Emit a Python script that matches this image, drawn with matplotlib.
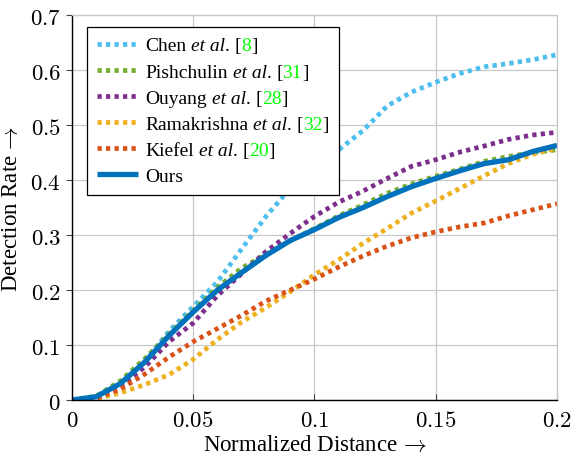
import matplotlib
matplotlib.use("Agg")
import matplotlib.pyplot as plt
from matplotlib.ticker import FuncFormatter
from matplotlib.offsetbox import TextArea, HPacker

plt.rcParams['mathtext.fontset'] = 'cm'
SERIF = ['Liberation Serif', 'DejaVu Serif']

x = [0.00, 0.01, 0.02, 0.03, 0.04, 0.05, 0.06, 0.07, 0.08, 0.09, 0.10,
     0.11, 0.12, 0.13, 0.14, 0.15, 0.16, 0.17, 0.18, 0.19, 0.20]

chen = [0.0, 0.005, 0.03, 0.07, 0.125, 0.17, 0.215, 0.275, 0.334, 0.385, 0.422,
        0.455, 0.49, 0.535, 0.56, 0.578, 0.594, 0.606, 0.612, 0.619, 0.628]
pishchulin = [0.0, 0.007, 0.035, 0.075, 0.12, 0.163, 0.205, 0.24, 0.265, 0.29, 0.312,
              0.335, 0.355, 0.376, 0.393, 0.407, 0.42, 0.434, 0.443, 0.45, 0.455]
ouyang = [0.0, 0.004, 0.025, 0.06, 0.106, 0.14, 0.19, 0.23, 0.27, 0.303, 0.334,
          0.36, 0.38, 0.403, 0.425, 0.437, 0.451, 0.462, 0.474, 0.482, 0.487]
ramakrishna = [0.0, 0.002, 0.013, 0.028, 0.046, 0.074, 0.11, 0.142, 0.168, 0.197, 0.228,
               0.255, 0.285, 0.312, 0.34, 0.362, 0.385, 0.408, 0.43, 0.447, 0.458]
kiefel = [0.0, 0.003, 0.02, 0.047, 0.078, 0.106, 0.13, 0.154, 0.18, 0.2, 0.22,
          0.242, 0.262, 0.28, 0.295, 0.306, 0.315, 0.322, 0.335, 0.346, 0.357]
ours = [0.0, 0.006, 0.03, 0.069, 0.117, 0.16, 0.2, 0.232, 0.263, 0.29, 0.31,
        0.332, 0.35, 0.37, 0.388, 0.403, 0.417, 0.43, 0.437, 0.452, 0.463]

names = ["Chen", "Pishchulin", "Ouyang", "Ramakrishna", "Kiefel", "Ours"]
cites = ["8", "31", "28", "32", "20", None]
series = [chen, pishchulin, ouyang, ramakrishna, kiefel, ours]
colors = ["#4DBEEE", "#77AC30", "#7E2F8E", "#EDB120", "#D95319", "#0072BD"]

xticks = [0, 0.05, 0.1, 0.15, 0.2]
yticks = [0, 0.1, 0.2, 0.3, 0.4, 0.5, 0.6, 0.7]

fig = plt.figure(figsize=(5.74, 4.56), dpi=100)
ax = fig.add_axes([0.1254, 0.1206, 0.845, 0.844])

lines = []
for nm, ys, c in zip(names, series, colors):
    if nm == "Ours":
        ln, = ax.plot(x, ys, color=c, lw=3.8, solid_capstyle='butt', solid_joinstyle='round')
    else:
        ln, = ax.plot(x, ys, color=c, lw=3.4, linestyle=(0, (0.9, 0.9)), dash_capstyle='butt')
    lines.append(ln)

ax.set_xlim(0, 0.2)
ax.set_ylim(0, 0.7)
ax.set_xticks(xticks)
ax.set_yticks(yticks)

def fmt(v, pos):
    return '$' + ('%g' % v) + '$'
ax.xaxis.set_major_formatter(FuncFormatter(fmt))
ax.yaxis.set_major_formatter(FuncFormatter(fmt))
ax.tick_params(axis='both', labelsize=16.5, color='#444444', width=0.8)
ax.tick_params(axis='x', direction='in', length=4, pad=6)
ax.tick_params(axis='y', direction='out', length=4, pad=4)

ax.grid(True, color='#c8c8c8', lw=0.9)
ax.set_axisbelow(True)
for s in ['top', 'right']:
    ax.spines[s].set_color('#c8c8c8')
    ax.spines[s].set_linewidth(0.9)
for s in ['left', 'bottom']:
    ax.spines[s].set_color('black')
    ax.spines[s].set_linewidth(1.0)

ax.set_xlabel(r'Normalized Distance $\!\rightarrow$', family=SERIF, fontsize=16.5, labelpad=2)
ax.set_ylabel(r'Detection Rate $\!\rightarrow$', family=SERIF, fontsize=16.5, labelpad=6)

fs = 14
leg = ax.legend(lines, names, loc='upper left', bbox_to_anchor=(0.031, 0.969),
                borderaxespad=0, prop={'family': SERIF, 'size': fs}, fancybox=False,
                edgecolor='black', framealpha=1, handlelength=2.1, handletextpad=0.4,
                labelspacing=0.44, borderpad=0.5)
leg.get_frame().set_linewidth(0.9)

# Rich labels: "Name et al. [cite]" with italic "et al" and green citation
def ta(s, **kw):
    props = dict(family=SERIF, size=fs, color='black')
    props.update(kw)
    return TextArea(s, textprops=props)

for column in leg._legend_handle_box.get_children():
    for entry, nm, c in zip(column.get_children(), names, cites):
        if c is None:
            continue
        handle, textbox = entry.get_children()
        g2 = HPacker(children=[ta("et al", style='italic'), ta(".")], sep=0, pad=0, align='baseline')
        g3 = HPacker(children=[ta("["), ta(c, color='#00FF00'), ta("]")], sep=0, pad=0, align='baseline')
        rich = HPacker(children=[textbox, g2, g3], sep=3.4, pad=0, align='baseline')
        rich.set_figure(fig)
        entry._children = [handle, rich]

fig.savefig('out.png', dpi=100)
